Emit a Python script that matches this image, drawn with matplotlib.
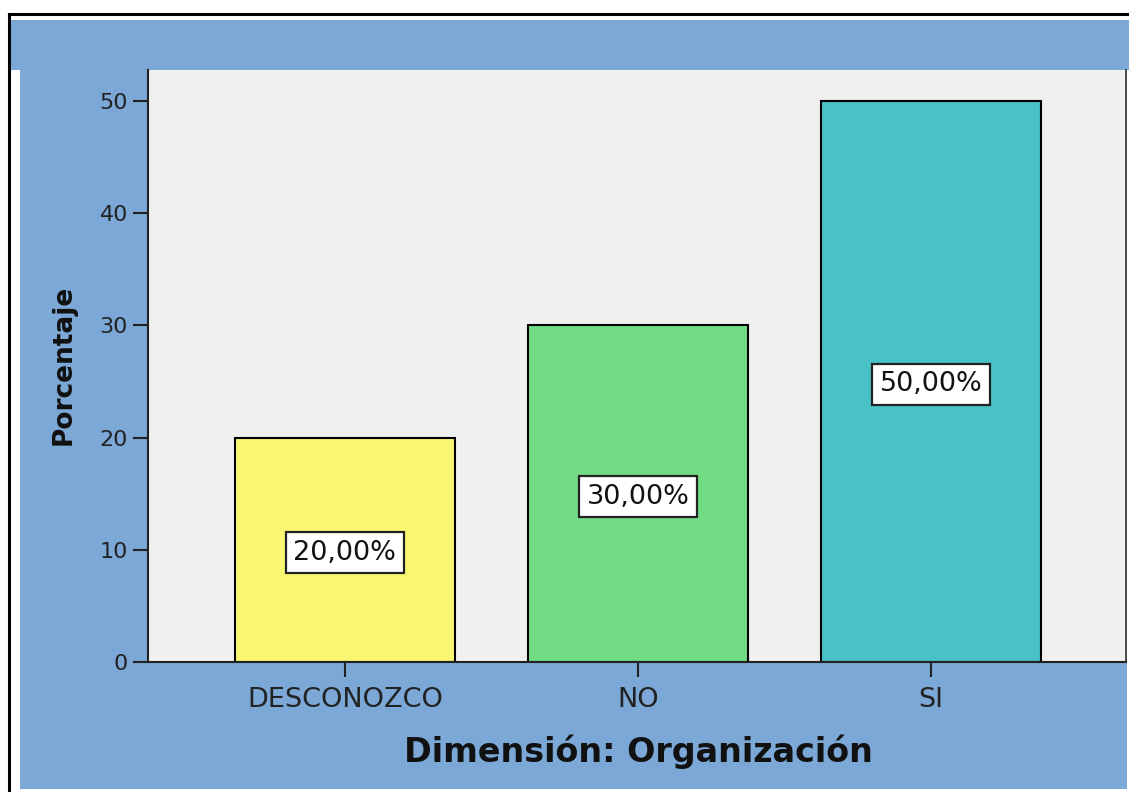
import matplotlib
matplotlib.use("Agg")
import matplotlib.pyplot as plt
from matplotlib.patches import Rectangle
from matplotlib.lines import Line2D

categories = ["DESCONOZCO", "NO", "SI"]
values = [20.0, 30.0, 50.0]
value_labels = ["20,00%", "30,00%", "50,00%"]
bar_colors = ["#F9F672", "#71DC84", "#48C2C6"]
yticks = [0, 10, 20, 30, 40, 50]
xlabel = "Dimensión: Organización"
ylabel = "Porcentaje"

W, H = 1129, 792
fig = plt.figure(figsize=(W / 100, H / 100), dpi=100, facecolor="white")

def fx(px):
    return px / W

def fy(py):
    return 1 - py / H

blue = "#7BA8D6"
# blue background regions
fig.patches.append(Rectangle((fx(10), fy(70)), fx(1129) - fx(10), fy(20) - fy(70),
                             transform=fig.transFigure, facecolor=blue, edgecolor="none", zorder=-5))
fig.patches.append(Rectangle((fx(20), fy(789)), fx(1127) - fx(20), fy(70) - fy(789),
                             transform=fig.transFigure, facecolor=blue, edgecolor="none", zorder=-5))
# black frame lines
fig.lines.append(Line2D([fx(8.5), fx(8.5)], [fy(13.5), fy(800)], transform=fig.transFigure,
                        color="black", lw=2.2, zorder=-4))
fig.lines.append(Line2D([fx(8.5), fx(1135)], [fy(13.5), fy(13.5)], transform=fig.transFigure,
                        color="black", lw=2.2, zorder=-4))

ax = fig.add_axes([fx(148), fy(662), fx(1126) - fx(148), fy(70) - fy(662)])
ax.set_zorder(2)
ax.set_facecolor("#F0F0F0")

x = list(range(len(categories)))
ax.bar(x, values, width=0.751, color=bar_colors, edgecolor="black", linewidth=1.5, zorder=2)

for xi, v, lab in zip(x, values, value_labels):
    ax.text(xi, v / 2, lab, ha="center", va="center_baseline", fontsize=19.5, color="#111111",
            family="DejaVu Sans", zorder=3,
            bbox=dict(boxstyle="square,pad=0.28", facecolor="white", edgecolor="#222222", linewidth=1.6))

ax.set_xlim(-0.672, 2.666)
ax.set_ylim(0, 52.76)
ax.set_yticks(yticks)
ax.set_yticklabels([str(t) for t in yticks])
ax.set_xticks(x)
ax.set_xticklabels(categories)

ax.tick_params(axis="y", length=11, width=1.5, pad=3.5, labelsize=16, colors="#222222")
ax.tick_params(axis="x", length=11, width=1.5, pad=7, labelsize=19.5, colors="#222222")

for s in ["left", "bottom"]:
    ax.spines[s].set_linewidth(1.5)
    ax.spines[s].set_color("#222222")
ax.spines["top"].set_visible(False)
ax.spines["right"].set_color("#333333")
ax.spines["right"].set_linewidth(1.2)

fig.text(fx(64), fy(365), ylabel, rotation=90, ha="center", va="center",
         fontsize=19, fontweight="bold", color="#111111")
fig.text(fx(638), fy(752), xlabel, ha="center", va="center",
         fontsize=24, fontweight="bold", color="#111111")

fig.savefig("out.png", dpi=100, facecolor="white")
